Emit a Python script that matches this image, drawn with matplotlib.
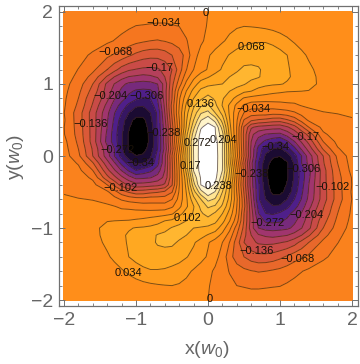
import numpy as np
import matplotlib
matplotlib.use('Agg')
import matplotlib.pyplot as plt
from matplotlib.colors import LinearSegmentedColormap
from matplotlib.ticker import MultipleLocator

plt.rcParams['font.family'] = 'Liberation Sans'
plt.rcParams['mathtext.fontset'] = 'custom'
plt.rcParams['mathtext.rm'] = 'Liberation Sans'
plt.rcParams['mathtext.it'] = 'Liberation Sans:italic'

# values, the upper half only
x_vals = [-2, -1.8, -1.6, -1.4, -1.3, -1.2, -1.1, -1, -.9, -.8, -.7, -.6, -.5, -.4, -.3, -.2, -.1, 0,
          .1, .2, .3, .4, .5, .6, .7, .8, .9, 1, 1.1, 1.2, 1.3, 1.4, 1.6, 1.8, 2]
y_upper = [2, 1.8, 1.6, 1.4, 1.2, 1.1, 1, .9, .8, .7, .6, .5, .4, .3, .2, .1, 0]
row_20 = [-.001, -.002, -.004, -.007, -.009, -.011, -.014, -.016, -.018, -.020, -.021, -.021, -.019, -.016, -.012, -.008, -.004, 0,
          .005, .010, .014, .017, .018, .018, .017, .015, .013, .011, .009, .007, .005, .004, .002, .001, .001]
row_18 = [-.002, -.004, -.008, -.015, -.020, -.025, -.030, -.035, -.036, -.037, -.038, -.038, -.036, -.034, -.025, -.016, -.007, .002,
          .010, .018, .025, .031, .034, .033, .031, .028, .024, .020, .016, .013, .010, .008, .004, .002, .001]
row_16 = [-.004, -.009, -.016, -.028, -.035, -.042, -.050, -.058, -.063, -.068, -.070, -.066, -.060, -.050, -.036, -.020, -.005, .008,
          .018, .030, .042, .052, .058, .063, .065, .065, .060, .050, .040, .030, .023, .017, .009, .004, .002]
row_14 = [-.008, -.022, -.040, -.061, -.072, -.082, -.097, -.110, -.120, -.125, -.125, -.118, -.102, -.085, -.055, -.012, .010, .030,
          .045, .058, .070, .080, .086, .090, .090, .090, .086, .080, .068, .055, .040, .030, .015, .007, .003]
row_12 = [-.015, -.035, -.060, -.102, -.125, -.150, -.165, -.172, -.177, -.178, -.175, -.160, -.136, -.085, -.035, 0, .020, .037,
          .055, .072, .090, .098, .108, .108, .105, .095, .085, .080, .071, .062, .050, .040, .022, .010, .005]
row_11 = [-.018, -.042, -.080, -.140, -.170, -.190, -.205, -.210, -.215, -.210, -.200, -.170, -.125, -.068, -.015, .025, .050, .065,
          .080, .090, .102, .110, .112, .112, .105, .090, .085, .078, .072, .063, .050, .041, .027, .012, .005]
row_10 = [-.022, -.052, -.102, -.178, -.205, -.230, -.245, -.250, -.252, -.250, -.238, -.190, -.112, -.050, .010, .050, .085, .095,
          .100, .102, .105, .108, .105, .090, .080, .075, .072, .070, .065, .058, .050, .042, .027, .013, .006]
row_09 = [-.025, -.060, -.115, -.185, -.220, -.245, -.265, -.277, -.280, -.278, -.250, -.185, -.105, -.020, .035, .080, .110, .120,
          .115, .110, .102, .095, .075, .068, .058, .050, .043, .040, .036, .035, .034, .033, .022, .012, .006]
row_08 = [-.028, -.068, -.130, -.195, -.235, -.260, -.283, -.300, -.310, -.305, -.270, -.187, -.102, -.005, .055, .102, .130, .150,
          .130, .105, .085, .055, .030, .022, .018, .016, .015, .012, .012, .012, .012, .012, .011, .009, .006]
row_07 = [-.030, -.075, -.140, -.215, -.255, -.285, -.315, -.336, -.338, -.325, -.283, -.196, -.090, 0, .075, .130, .165, .175,
          .145, .100, .062, .025, -.005, -.020, -.020, -.020, -.017, -.012, -.008, -.006, .001, .004, .006, .005, .004]
row_06 = [-.033, -.085, -.152, -.230, -.270, -.306, -.340, -.355, -.358, -.340, -.300, -.204, -.095, .006, .090, .150, .200, .215,
          .170, .125, .062, .012, -.035, -.050, -.050, -.050, -.055, -.053, -.048, -.038, -.022, -.008, -.001, .001, .002]
row_05 = [-.030, -.085, -.152, -.235, -.278, -.322, -.360, -.385, -.383, -.350, -.300, -.213, -.105, -.002, .098, .170, .235, .262,
          .225, .155, .070, .004, -.070, -.095, -.105, -.110, -.118, -.120, -.105, -.085, -.055, -.028, -.012, -.006, -.001]
row_04 = [-.033, -.082, -.150, -.238, -.285, -.330, -.370, -.397, -.393, -.360, -.300, -.222, -.115, -.008, .105, .195, .268, .285,
          .272, .190, .080, -.002, -.105, -.165, -.180, -.185, -.190, -.192, -.175, -.150, -.110, -.068, -.024, -.012, -.004]
row_03 = [-.032, -.080, -.150, -.245, -.290, -.335, -.378, -.400, -.397, -.364, -.310, -.222, -.110, 0, .125, .220, .283, .295,
          .275, .215, .090, -.002, -.112, -.195, -.225, -.240, -.245, -.247, -.225, -.195, -.160, -.125, -.040, -.018, -.007]
row_02 = [-.024, -.075, -.150, -.250, -.288, -.335, -.378, -.400, -.398, -.365, -.310, -.222, -.110, .010, .136, .238, .288, .300,
          .285, .240, .113, 0, -.110, -.204, -.255, -.280, -.295, -.306, -.277, -.240, -.200, -.160, -.068, -.025, -.012]
row_01 = [-.020, -.068, -.140, -.228, -.272, -.335, -.378, -.390, -.388, -.360, -.306, -.228, -.120, -.006, .120, .240, .288, .300,
          .288, .238, .120, .006, -.108, -.212, -.283, -.328, -.340, -.345, -.320, -.282, -.233, -.190, -.098, -.037, -.015]
row_00 = [-.017, -.060, -.136, -.222, -.272, -.320, -.358, -.373, -.368, -.345, -.292, -.212, -.102, .011, .125, .238, .290, .300,
          .290, .238, .125, .011, -.102, -.212, -.292, -.345, -.368, -.373, -.358, -.320, -.272, -.222, -.136, -.060, -.017]

# contour labels
label_x = [-.62, -1.28, -.68, -1.36, -.85, -1.63, -1.26, -.94, -1.22, -.62, -.15, .21, -.25, -.11, .14, -.03,
           .60, .63, 1.35, .93, 1.32, .61, 1.73, 1.37, .83, .67, 1.25, -.29, -1.11, .02]
label_y = [1.85, 1.45, 1.22, .83, .83, .44, .08, -.10, -.44, .32, .18, .22, -.14, .72, -.41, 1.98,
           1.52, .65, .26, .12, -.18, -.25, -.43, -.82, -.93, -1.32, -1.43, -.86, -1.62, -1.98]
label_txt = ['−0.034', '−0.068', '−0.17', '−0.204', '−0.306', '−0.136', '−0.272', '−0.34', '−0.102', '−0.238',
             '0.272', '0.204', '0.17', '0.136', '0.238', '0', '0.068', '−0.034', '−0.17', '−0.34', '−0.306',
             '−0.238', '−0.102', '−0.204', '−0.272', '−0.136', '−0.068', '0.102', '0.034', '0']

# colours along the value range
color_vals = [-.391, -.34, -.29, -.22, -.14, -.05, .017, .10, .19, .24, .289]
color_hex = ['#000000', '#2b1250', '#4f1f8a', '#a0356e', '#d2503f', '#f5761f', '#ff8e1a', '#ffad22', '#ffd25e', '#ffeeae', '#ffffff']

upper = np.array([row_20, row_18, row_16, row_14, row_12, row_11, row_10, row_09, row_08, row_07, row_06,
                  row_05, row_04, row_03, row_02, row_01, row_00])
# the picture is point symmetric around the origin
z = np.vstack([upper, upper[-2::-1, ::-1]])
y_vals = np.concatenate([y_upper, -np.array(y_upper[-2::-1])])

levels = np.arange(-12, 10) * 0.034
levels[0] = -0.45
levels[-1] = 0.35

pos = (np.array(color_vals) - color_vals[0]) / (color_vals[-1] - color_vals[0])
cmap = LinearSegmentedColormap.from_list('sunset', list(zip(pos, color_hex)))

fig = plt.figure(figsize=(3.6, 3.64), dpi=100)
ax = fig.add_axes([58.5 / 360, 1 - 306 / 364, 299.5 / 360, 300.5 / 364])

ax.contourf(x_vals, y_vals, z, levels=levels, cmap=cmap, vmin=color_vals[0], vmax=color_vals[-1])
ax.contour(x_vals, y_vals, z, levels=levels[1:-1], colors='#3a2410', linewidths=0.7, alpha=0.65, linestyles='solid')

for lx, ly, lt in zip(label_x, label_y, label_txt):
    ax.text(lx, ly, lt, fontsize=8, color='#1a1208', ha='center', va='center')

ax.set_xlim(-2.076, 2.083)
ax.set_ylim(-2.083, 2.09)
ax.set_xticks([-2, -1, 0, 1, 2])
ax.set_yticks([-2, -1, 0, 1, 2])
ax.xaxis.set_minor_locator(MultipleLocator(0.2))
ax.yaxis.set_minor_locator(MultipleLocator(0.2))
ax.tick_params(which='major', direction='in', top=True, right=True, length=4, width=0.7, color='#707070',
               labelcolor='#666666', labelsize=14, pad=4)
ax.tick_params(which='minor', direction='in', top=True, right=True, length=2.2, width=0.6, color='#707070')
for sp in ax.spines.values():
    sp.set_color('#707070')
    sp.set_linewidth(0.9)

fig.text(207 / 360, 1 - 350 / 364, r'x($\mathit{w}_0$)', fontsize=14, color='#666666', ha='center', va='center')
fig.text(15 / 360, 1 - 157 / 364, r'y($\mathit{w}_0$)', fontsize=14, color='#666666', ha='center', va='center', rotation=90)

fig.savefig('out.png', dpi=100)
